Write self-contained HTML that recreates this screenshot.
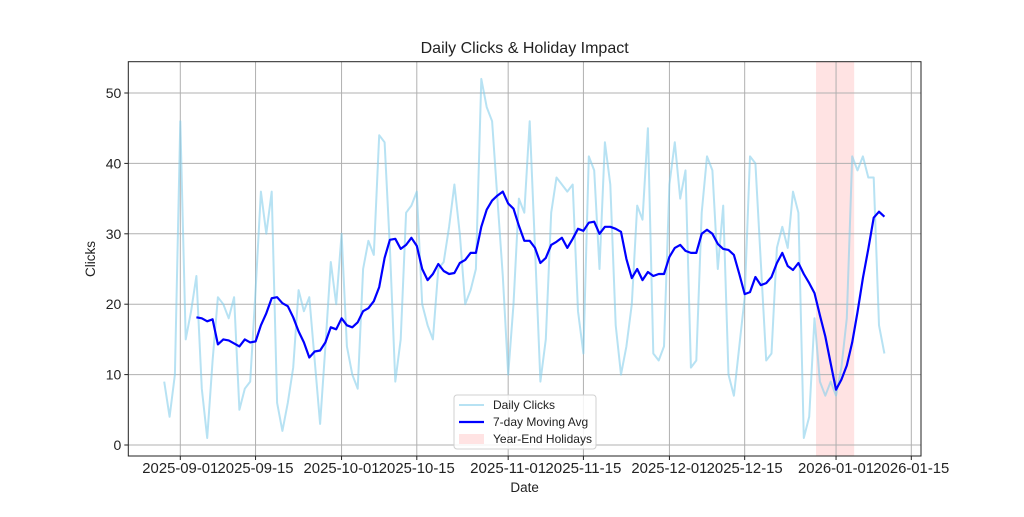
<!DOCTYPE html>
<html><head><meta charset="utf-8"><style>
body{margin:0;background:#fff;}
svg text{font-family:"Liberation Sans","DejaVu Sans",sans-serif;fill:#222;}
</style></head><body>
<svg id="chart" width="1024" height="512" viewBox="0 0 1024 512" xmlns="http://www.w3.org/2000/svg">
<rect x="0" y="0" width="1024" height="512" fill="#fff"/>
<g id="plot"></g>
</svg>
<script>
const startDate = "2025-08-29";
const dailyClicks = [9,4,10,46,15,19,24,8,1,12,21,20,18,21,5,8,9,22,36,30,36,6,2,6,11,22,19,21,12,3,14,26,20,30,14,10,8,25,29,27,44,43,28,9,15,33,34,36,20,17,15,25,26,31,37,30,20,22,25,52,48,46,35,24,10,20,35,33,46,28,9,15,33,38,37,36,37,19,13,41,39,25,43,37,17,10,14,20,34,32,45,13,12,14,37,43,35,39,11,12,33,41,39,25,34,10,7,14,21,41,40,26,12,13,28,31,28,36,33,1,4,18,9,7,9,7,11,18,41,39,41,38,38,17,13];
const maWindow = [7];
const holidayRange = ["2025-12-28","2026-01-04"];
const yTicks = [0,10,20,30,40,50];
const xTickLabels = ["2025-09-01","2025-09-15","2025-10-01","2025-10-15","2025-11-01","2025-11-15","2025-12-01","2025-12-15","2026-01-01","2026-01-15"];

const NS="http://www.w3.org/2000/svg";
const plot=document.getElementById('plot');
const L=128.3,R=921,T=61.7,B=456;
const day0=Date.UTC(2025,8,1);
function dnum(s){const p=s.split('-');return (Date.UTC(+p[0],+p[1]-1,+p[2])-day0)/86400000;}
function xs(d){return 180.3+5.375*d;}
function ys(v){return 445-7.04*v;}
function mk(tag,attrs,parent){const e=document.createElementNS(NS,tag);for(const k in attrs)e.setAttribute(k,attrs[k]);(parent||plot).appendChild(e);return e;}
const s0=dnum(startDate);

// holiday band
const hb=mk('rect',{x:xs(dnum(holidayRange[0]))+1.5,y:T,width:xs(dnum(holidayRange[1]))-xs(dnum(holidayRange[0]))+0.5,height:B-T,fill:'#ff0000','fill-opacity':0.11});



// grid
yTicks.forEach(v=>{
  const g=mk('line',{x1:L,x2:R,y1:ys(v),y2:ys(v),stroke:'#b0b0b0','stroke-width':1});
  
  
  const t=mk('line',{x1:L-4,x2:L,y1:ys(v),y2:ys(v),stroke:'#222','stroke-width':1});
  
  
  const tx=mk('text',{x:L-7,y:ys(v)+5,'text-anchor':'end','font-size':14});
  tx.textContent=v;
  
  
});
xTickLabels.forEach(s=>{
  const x=xs(dnum(s));
  const g=mk('line',{x1:x,x2:x,y1:T,y2:B,stroke:'#b0b0b0','stroke-width':1});
  
  
  const t=mk('line',{x1:x,x2:x,y1:B,y2:B+4,stroke:'#222','stroke-width':1});
  
  
  const tx=mk('text',{x:x,y:B+17,'text-anchor':'middle','font-size':14.5,textLength:76,lengthAdjust:'spacingAndGlyphs'});
  tx.textContent=s;
  
  
});

// daily line
const dp=dailyClicks.map((v,i)=>xs(s0+i).toFixed(1)+','+ys(v).toFixed(1)).join(' ');
const dl=mk('polyline',{points:dp,fill:'none',stroke:'#87ceeb','stroke-opacity':0.6,'stroke-width':2,'stroke-linejoin':'round'});



// moving average
const w=maWindow[0];const mp=[];
for(let i=w-1;i<dailyClicks.length;i++){let s=0;for(let j=i-w+1;j<=i;j++)s+=dailyClicks[j];mp.push(xs(s0+i).toFixed(1)+','+ys(s/w).toFixed(1));}
const ml=mk('polyline',{points:mp.join(' '),fill:'none',stroke:'#0000ff','stroke-width':2.2,'stroke-linejoin':'round'});



// frame
const fr=mk('rect',{x:L,y:T,width:R-L,height:B-T,fill:'none',stroke:'#222','stroke-width':1});



// titles
const ti=mk('text',{x:(L+R)/2,y:53,'text-anchor':'middle','font-size':16});
ti.textContent='Daily Clicks & Holiday Impact';


const xl=mk('text',{x:(L+R)/2,y:492,'text-anchor':'middle','font-size':13.5});
xl.textContent='Date';


const yl=mk('text',{x:0,y:0,'text-anchor':'middle','font-size':13.5,transform:'translate(95,259) rotate(-90)'});
yl.textContent='Clicks';



// legend
const lg=mk('g',{});


mk('rect',{x:454,y:395,width:142,height:54,rx:3,fill:'#fff','fill-opacity':0.85,stroke:'#d0d0d0'},lg);
const ents=[['Daily Clicks','line','#87ceeb',0.6,2],['7-day Moving Avg','line','#0000ff',1,2.2],['Year-End Holidays','rect','#ff0000',0.11,0]];
ents.forEach((e,i)=>{
  const y=405+i*17;
  const g=mk('g',{},lg);
  
  
  if(e[1]==='line')mk('line',{x1:459,x2:484,y1:y,y2:y,stroke:e[2],'stroke-opacity':e[3],'stroke-width':e[4]},g);
  else mk('rect',{x:459,y:y-5,width:25,height:10,fill:e[2],'fill-opacity':e[3]},g);
  const t=mk('text',{x:493,y:y+4,'font-size':12},g);
  t.textContent=e[0];
});
</script>
</body></html>
